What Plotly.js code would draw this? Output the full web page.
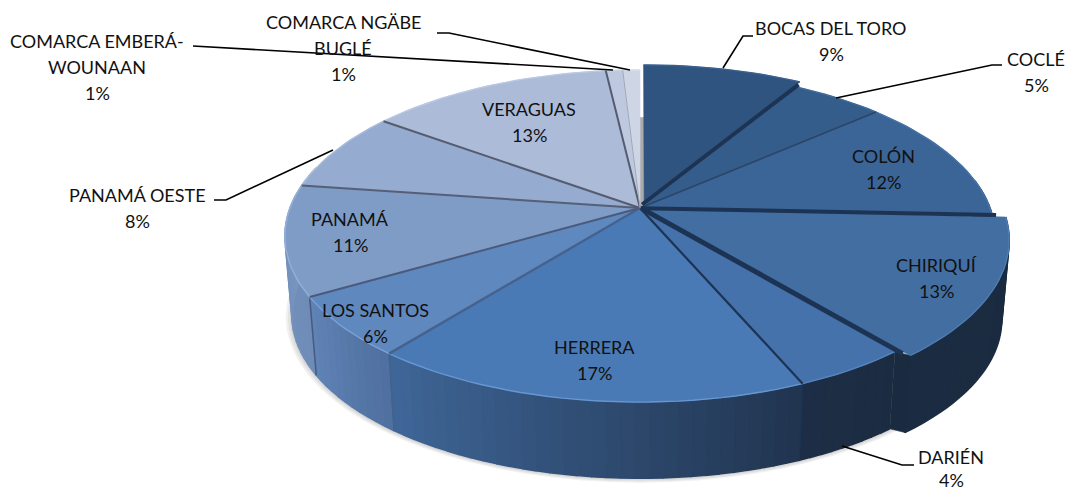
<!DOCTYPE html>
<html><head><meta charset="utf-8">
<script src="https://cdn.plot.ly/plotly-3.0.1.min.js"></script>
<style>html,body{margin:0;padding:0;background:#fff;overflow:hidden}</style>
</head><body><div id="chart" style="width:1068px;height:491px"></div>
<script>
const categories=["BOCAS DEL TORO","COCLÉ","COLÓN","CHIRIQUÍ","DARIÉN","HERRERA","LOS SANTOS","PANAMÁ","PANAMÁ OESTE","VERAGUAS","COMARCA EMBERÁ-WOUNAAN","COMARCA NGÄBE BUGLÉ"];
const shares=[8.6,4.9,12.1,13.49,4.49,17.1,5.9,10.7,7.8,13.1,0.9,0.92];
const labelLines=[["BOCAS DEL TORO"],["COCLÉ"],["COLÓN"],["CHIRIQUÍ"],["DARIÉN"],["HERRERA"],["LOS SANTOS"],["PANAMÁ"],["PANAMÁ OESTE"],["VERAGUAS"],["COMARCA EMBERÁ-","WOUNAAN"],["COMARCA NGÄBE","BUGLÉ"]];

// styling
const faceColors=["#2F5480","#355D8B","#3B6596","#426EA1","#4672AB","#4A7AB5","#5F88BF","#7F9CC7","#95ABCF","#ABBBD8","#BEC9E0","#CED6E6"];
const rimColors=["#3A6090","#3F6A9C","#4573A8","#4F7DB2","#5584BE","#6796D0","#7BA2D6","#95B0D8","#A8BCDC","#BAC8E2","#C8D2E6","#D6DDEA"];
const wallFrom=["#1F3A5F","#1F3A5F","#1F3A5F","#1B2C42","#1C2D45","#3F6799","#6184B6","#7B97C1","#7F9AC2","#8FA6CB","#A0B2D2","#B0BFD9"];
const wallTo=["#1F3A5F","#1F3A5F","#1F3A5F","#1A2B40","#1B2C42","#21344F","#4E6F9F","#6E8CB7","#7F9AC2","#8FA6CB","#A0B2D2","#B0BFD9"];
const sepColors=["#1C3353","#2A4568","#1C3353","#1C3353","#1C3353","#46628C","#4A5A7C","#555F78","#555C70","#555C70","#A0A8B8","#CCCCCC"];
const sepWidths=[4,1.5,4,5,2.2,2.4,2,2,2,2,1,0];
const sepBlend=[.5,0,.3,.5,0,0,0,0,0,0,0,0];
const explode=[.045,0,0,.04,0,0,0,0,0,0,0,0];
const explodeApex=[1,0,0,.25,0,0,0,0,0,0,0,0];

// projection of the tilted disc onto the axes
const CX=640,CY=208,RX=350,RY=161.3,PERSP=.169,DEPTH=80,SHRINK=.98;
function project(X,Y,low,k){
  const w=1+PERSP*Y,s=(low?SHRINK:1)*(k||1);
  return [CX+RX*s*X/w, CY+(low?DEPTH:0)-RY*s*Y/w];
}
function point(i,deg,r,low){
  const a=deg*Math.PI/180;
  let sum=0;for(let j=0;j<i;j++)sum+=shares[j];
  const mid=(sum+shares[i]/2)*3.6*Math.PI/180;
  const e=explode[i]*(explodeApex[i]+(1-explodeApex[i])*r);
  return project(r*Math.sin(a)+e*Math.sin(mid),r*Math.cos(a)+e*Math.cos(mid),low);
}
function hex(c){return [1,3,5].map(k=>parseInt(c.substr(k,2),16));}
function mix(a,b,t){const A=hex(a),B=hex(b);return 'rgb('+A.map((v,k)=>Math.round(v+(B[k]-v)*t)).join(',')+')';}
const traces=[];
function poly(pts,fill,line,lw){
  traces.push({type:'scatter',mode:'lines',x:pts.map(p=>p[0]),y:pts.map(p=>p[1]),fill:fill?'toself':'none',
    fillcolor:fill||undefined,line:{color:line||fill,width:lw==null?.6:lw,shape:'linear'},hoverinfo:'skip',showlegend:false});
}
// slice angle limits
const starts=[],ends=[];let cum=0;
shares.forEach(v=>{starts.push(cum*3.6);cum+=v;ends.push(cum*3.6);});

// soft ground shadow
[1.018,1.012,1.006].forEach(k=>{
  const pts=[];for(let d=0;d<=360;d+=4){const a=d*Math.PI/180;const p=project(Math.sin(a),Math.cos(a),true,k);pts.push([p[0],p[1]+1]);}
  poly(pts,'rgba(60,60,60,0.07)','rgba(0,0,0,0)',0);
});
// inner wall seen through the gap beside the first slice
poly([project(0,0),project(0,.62),project(.016,.62),project(.016,0)],'#ABABAB');

// outer walls, back to front
const order=shares.map((_,i)=>i).sort((a,b)=>Math.cos((starts[b]+ends[b])/360*Math.PI)-Math.cos((starts[a]+ends[a])/360*Math.PI));
order.forEach(i=>{
  const from=Math.max(starts[i],80),to=Math.min(ends[i],285);
  if(to<=from)return;
  const n=Math.max(2,Math.ceil((to-from)/2));
  for(let k=0;k<n;k++){
    const a=from+(to-from)*k/n,b=from+(to-from)*(k+1)/n;
    const t=(k+.5)/n;
    // gradient runs left to right across the picture, i.e. reversed clockwise
    const c=mix(wallFrom[i],wallTo[i],1-t);
    poly([point(i,a,1),point(i,b,1),point(i,b,1,true),point(i,a,1,true)],c,c,1.6);
  }
});
// walls exposed by exploded slices in front
shares.forEach((_,i)=>{
  const j=(i+1)%shares.length;
  if(explode[i]===explode[j])return;
  const th=ends[i];
  if(Math.cos(th*Math.PI/180)<-.2){
    poly([point(i,th,1),point(j,th,1),point(j,th,1,true),point(i,th,1,true)],wallTo[i]);
  }
});
// seams on the wall
shares.forEach((_,i)=>{
  const th=ends[i];
  if(th>95&&th<270&&sepWidths[i]>0&&explode[i]===0) poly([point(i,th,1),point(i,th,1,true)],null,sepColors[i],1.5);
});
// top faces
shares.forEach((_,i)=>{
  const pts=[point(i,starts[i],0)];
  const n=Math.max(4,Math.ceil((ends[i]-starts[i])/2));
  for(let k=0;k<=n;k++)pts.push(point(i,starts[i]+(ends[i]-starts[i])*k/n,1));
  pts.push(point(i,starts[i],0));
  poly(pts,faceColors[i]);
});
// bevel on the rim
shares.forEach((_,i)=>{
  const pts=[];const n=Math.max(4,Math.ceil((ends[i]-starts[i])/2));
  for(let k=0;k<=n;k++)pts.push(point(i,starts[i]+(ends[i]-starts[i])*k/n,1));
  poly(pts,null,rimColors[i],1.4);
});
// separators and exposed gap stripes between slices
shares.forEach((_,i)=>{
  if(sepWidths[i]<=0)return;
  const j=(i+1)%shares.length,t=sepBlend[i];
  const seg=[0,1].map(r=>{const A=point(i,ends[i],r),B=point(j,ends[i],r);return [A[0]+(B[0]-A[0])*t,A[1]+(B[1]-A[1])*t];});
  poly(seg,null,sepColors[i],sepWidths[i]);
});

// leader lines
const leaders=[
 [[723,68],[743,36],[753,36]],
 [[836,98],[992,65],[1002,65]],
 [[842,446],[902,465],[914,465]],
 [[333,150],[226,200],[214,200]],
 [[613,70],[205,46],[193,46]],
 [[630,70],[449,33],[437,33]]
];
leaders.forEach(l=>poly(l,null,'#000000',1.6));

// label anchors: first line position per slice, line spacing per label
const labelAnchor=[[831,28],[1036,59],[883,156],[936,265],[951,457],[594,347],[375,310],[350,219],[137,195],[529,109],[97,41],[343,22]];
const labelSpacing=[26,26,26,26,23,26,26,26,26,26,26,26];
const annotations=[];
categories.forEach((_,i)=>{
  const lines=labelLines[i].concat([Math.round(shares[i])+'%']);
  lines.forEach((t,k)=>annotations.push({x:labelAnchor[i][0],y:labelAnchor[i][1]+k*labelSpacing[i],xref:'x',yref:'y',text:t,showarrow:false,
    xanchor:'center',yanchor:'middle',font:{family:'Lato, sans-serif',size:18,color:'#111111'}}));
});

Plotly.newPlot('chart',traces,{
  width:1068,height:491,margin:{l:0,r:0,t:0,b:0},paper_bgcolor:'#fff',plot_bgcolor:'#fff',showlegend:false,
  xaxis:{range:[0,1068],visible:false,fixedrange:true},
  yaxis:{range:[491,0],visible:false,fixedrange:true},
  annotations:annotations,hovermode:false
},{displayModeBar:false,staticPlot:true});
</script></body></html>
